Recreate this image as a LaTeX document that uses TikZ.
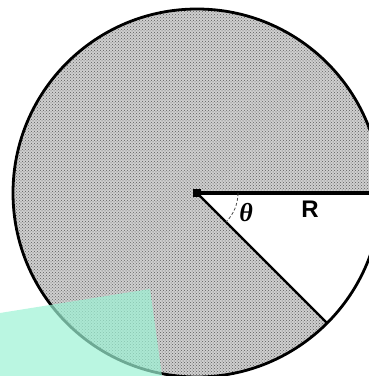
\documentclass[tikz,border=0pt]{standalone}
\usepackage{fontspec}
\setsansfont{Liberation Sans}
\newfontfamily\thetafont{Liberation Serif}
\usetikzlibrary{patterns, calc}
\definecolor{cgrey}{HTML}{CFCFCF}
\definecolor{cdot}{HTML}{5A5A5A}
\definecolor{caqua}{HTML}{9CF2D4}
\tikzset{
  every picture/.style={x=1pt, y=1pt, line width=1.2pt},
  disc/.style={fill=cgrey, postaction={pattern=crosshatch dots, pattern color=cdot}},
  rim/.style={draw=black, line width=2.8pt},
  spoke/.style={draw=black, line width=#1},
  spoke/.default=2.2pt,
  anglearc/.style={draw=black!70, line width=0.8pt, dash pattern=on 3pt off 2pt},
  label/.style={font=\sffamily\bfseries\fontsize{24}{28}\selectfont, inner sep=0pt},
  glare/.style={fill=caqua, opacity=0.7},
}
\begin{document}
\begin{tikzpicture}
  \useasboundingbox (0,0) rectangle (368,376);
  \coordinate (O) at (197,183);
  \coordinate (A) at ($(O)+(0:184)$);
  \coordinate (B) at ($(O)+(-45:184)$);
  % the disc with the cut-out sector
  \path[disc] (O) circle[radius=184];
  \fill[white] (O) -- (A) arc[start angle=0, end angle=-45, radius=184] -- cycle;
  \draw[rim] (O) circle[radius=184];
  \draw[spoke=3.4pt] (O) -- (A);
  \draw[spoke] (O) -- (B);
  \fill[black] ($(O)+(-4,-4)$) rectangle ($(O)+(4,4)$);
  \draw[anglearc] ($(O)+(0:41)$) arc[start angle=0, end angle=-45, radius=41];
  \node[label] (theta) at (246,163) {\thetafont\bfseries\itshape\fontsize{26}{30}\selectfont θ};
  \node[label] (R) at (310,167) {R};
  % glare in the corner
  \fill[glare] (0,63) -- (150,87) -- (162,0) -- (0,0) -- cycle;
\end{tikzpicture}
\end{document}
